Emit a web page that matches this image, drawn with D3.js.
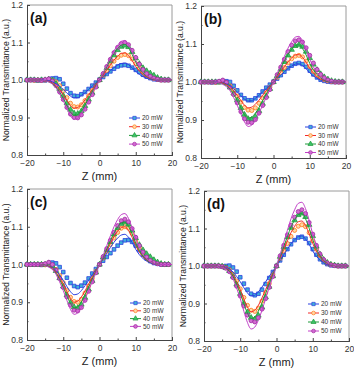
<!DOCTYPE html>
<html>
<head>
<meta charset="utf-8">
<script src="https://cdn.jsdelivr.net/npm/d3@7"></script>
<style>
  body { margin: 0; background: #fff; }
  svg { display: block; }
  text { font-family: "Liberation Sans", Arial, sans-serif; }
</style>
</head>
<body>
<svg width="354" height="372"></svg>
<script>
const powers = ["20 mW", "30 mW", "40 mW", "50 mW"];
const panelLabels = ["(a)", "(b)", "(c)", "(d)"];
const xTicks = [-20, -10, 0, 10, 20];
const xMinor = [-15, -5, 5, 15];
const yTicks = [0.8, 0.9, 1.0, 1.1, 1.2];
const yMinor = [0.85, 0.95, 1.05, 1.15];

// z positions (mm) of the measured points and of the fitted curves
const zPts = [-20,-19,-18,-17,-16,-15,-14,-13,-12,-11,-10,-9,-8,-7,-6,-5,-4,-3,-2,-1,0,1,2,3,4,5,6,7,8,9,10,11,12,13,14,15,16,17,18,19];
const zFit = [-20,-19,-18,-17,-16,-15,-14,-13,-12,-11,-10,-9,-8,-7,-6,-5,-4,-3,-2,-1,0,1,2,3,4,5,6,7,8,9,10,11,12,13,14,15,16,17,18,19,20];

// (a) measured
const ptsA20 = [1.000,1.000,1.000,0.999,1.000,0.999,1.001,1.004,1.005,1.002,0.990,0.977,0.965,0.958,0.957,0.962,0.968,0.976,0.985,0.993,1.001,1.008,1.016,1.023,1.030,1.036,1.039,1.040,1.038,1.033,1.027,1.021,1.014,1.009,1.005,1.002,1.001,1.000,1.000,1.000];
const ptsA30 = [1.000,1.000,0.999,1.000,0.999,1.000,1.001,1.000,0.995,0.985,0.970,0.953,0.938,0.929,0.928,0.934,0.945,0.958,0.972,0.986,1.000,1.012,1.025,1.038,1.050,1.060,1.066,1.068,1.065,1.056,1.044,1.032,1.022,1.014,1.008,1.004,1.002,1.000,1.000,1.000];
const ptsA40 = [1.000,1.000,1.000,0.999,1.000,1.000,1.002,0.999,0.990,0.976,0.958,0.938,0.921,0.911,0.910,0.917,0.931,0.948,0.966,0.983,1.000,1.015,1.032,1.050,1.066,1.080,1.089,1.092,1.088,1.075,1.058,1.043,1.032,1.024,1.018,1.012,1.006,1.002,1.000,1.000];
const ptsA50 = [1.000,1.000,1.000,1.000,0.999,1.001,1.003,0.997,0.985,0.968,0.948,0.927,0.909,0.900,0.899,0.907,0.922,0.941,0.961,0.981,1.000,1.017,1.036,1.055,1.073,1.087,1.097,1.100,1.094,1.079,1.060,1.042,1.028,1.017,1.010,1.005,1.002,1.000,1.000,1.000];
// (a) fitted
const fitA20 = [1,1,1,1,1,0.999,0.998,0.995,0.990,0.983,0.975,0.965,0.957,0.952,0.953,0.959,0.966,0.975,0.984,0.992,1,1.008,1.017,1.025,1.033,1.040,1.044,1.045,1.041,1.032,1.023,1.015,1.009,1.005,1.002,1.001,1,1,1,1,1];
const fitA30 = [1,1,1,1,0.999,0.998,0.996,0.992,0.985,0.974,0.961,0.946,0.932,0.925,0.927,0.935,0.947,0.961,0.974,0.987,1,1.013,1.027,1.040,1.053,1.063,1.071,1.072,1.065,1.052,1.036,1.024,1.014,1.008,1.004,1.002,1.001,1,1,1,1];
const fitA40 = [1,1,1,1,0.999,0.998,0.995,0.990,0.981,0.967,0.951,0.932,0.914,0.905,0.908,0.918,0.933,0.951,0.968,0.984,1,1.017,1.035,1.053,1.070,1.084,1.093,1.095,1.086,1.068,1.048,1.031,1.019,1.010,1.005,1.002,1.001,1,1,1,1];
const fitA50 = [1,1,1,1,0.999,0.998,0.995,0.989,0.979,0.963,0.945,0.924,0.905,0.895,0.898,0.910,0.926,0.945,0.964,0.982,1,1.019,1.039,1.059,1.078,1.092,1.103,1.105,1.094,1.076,1.052,1.035,1.021,1.012,1.006,1.003,1.001,1,1,1,1];

// (b) measured
const ptsB20 = [1.000,1.000,1.000,0.999,1.000,1.000,1.001,1.002,1.000,0.990,0.978,0.966,0.957,0.952,0.952,0.957,0.965,0.975,0.985,0.993,1.001,1.009,1.018,1.027,1.036,1.043,1.048,1.050,1.047,1.040,1.030,1.020,1.012,1.006,1.003,1.001,1.000,1.000,1.000,1.000];
const ptsB30 = [1.000,1.000,1.000,1.000,0.999,1.000,1.001,0.998,0.990,0.978,0.963,0.947,0.933,0.926,0.925,0.932,0.944,0.958,0.972,0.986,1.000,1.012,1.025,1.038,1.050,1.061,1.068,1.070,1.066,1.055,1.041,1.028,1.018,1.011,1.006,1.003,1.001,1.000,1.000,1.000];
const ptsB40 = [1.000,1.000,1.000,1.000,1.000,0.999,1.002,0.997,0.986,0.970,0.952,0.932,0.914,0.903,0.901,0.909,0.924,0.943,0.963,0.982,1.000,1.016,1.034,1.053,1.070,1.085,1.095,1.098,1.093,1.080,1.063,1.046,1.032,1.021,1.013,1.007,1.003,1.001,1.000,1.000];
const ptsB50 = [1.000,1.000,1.000,1.000,1.000,1.002,1.005,0.999,0.986,0.967,0.945,0.922,0.903,0.894,0.893,0.901,0.918,0.938,0.959,0.980,1.000,1.019,1.039,1.060,1.080,1.097,1.108,1.111,1.105,1.090,1.070,1.050,1.033,1.020,1.011,1.005,1.002,1.000,1.000,1.000];
// (b) fitted
const fitB20 = [1,1,1,1,1,0.999,0.998,0.995,0.990,0.982,0.974,0.964,0.955,0.950,0.951,0.957,0.965,0.974,0.983,0.991,1,1.009,1.018,1.027,1.036,1.042,1.047,1.048,1.043,1.035,1.024,1.016,1.010,1.005,1.003,1.001,1,1,1,1,1];
const fitB30 = [1,1,1,1,0.999,0.999,0.997,0.993,0.986,0.976,0.965,0.951,0.939,0.932,0.934,0.942,0.952,0.965,0.977,0.988,1,1.013,1.027,1.040,1.053,1.063,1.071,1.072,1.065,1.052,1.036,1.024,1.014,1.008,1.004,1.002,1.001,1,1,1,1];
const fitB40 = [1,1,1,1,0.999,0.998,0.995,0.990,0.981,0.967,0.951,0.932,0.914,0.905,0.908,0.918,0.933,0.951,0.968,0.984,1,1.018,1.036,1.055,1.073,1.086,1.096,1.098,1.088,1.071,1.049,1.032,1.020,1.011,1.005,1.002,1.001,1,1,1,1];
const fitB50 = [1,1,1,1,0.999,0.998,0.994,0.988,0.977,0.959,0.939,0.916,0.895,0.883,0.887,0.899,0.918,0.939,0.960,0.980,1,1.022,1.044,1.067,1.089,1.106,1.118,1.120,1.108,1.086,1.060,1.040,1.024,1.013,1.007,1.003,1.001,1,1,1,1];

// (c) measured
const ptsC20 = [1.000,1.000,1.000,1.000,0.999,1.000,1.002,1.005,1.003,0.993,0.980,0.965,0.951,0.943,0.940,0.944,0.952,0.963,0.976,0.988,1.000,1.010,1.020,1.030,1.040,1.050,1.058,1.064,1.065,1.060,1.050,1.038,1.026,1.016,1.009,1.004,1.002,1.000,1.000,1.000];
const ptsC30 = [1.000,1.000,1.000,1.000,1.000,0.999,1.001,0.997,0.987,0.971,0.952,0.931,0.913,0.902,0.900,0.908,0.924,0.943,0.963,0.982,1.000,1.017,1.035,1.053,1.070,1.085,1.096,1.100,1.096,1.082,1.062,1.044,1.030,1.019,1.011,1.006,1.003,1.001,1.000,1.000];
const ptsC40 = [1.000,1.000,1.000,1.000,1.000,1.000,1.003,0.996,0.983,0.964,0.942,0.919,0.899,0.887,0.885,0.894,0.912,0.934,0.957,0.979,1.000,1.019,1.039,1.060,1.080,1.097,1.108,1.112,1.106,1.090,1.070,1.052,1.038,1.028,1.020,1.012,1.006,1.002,1.000,1.000];
const ptsC50 = [1.000,1.000,1.000,1.000,1.000,1.002,1.006,1.000,0.985,0.963,0.939,0.914,0.892,0.879,0.877,0.886,0.905,0.929,0.954,0.978,1.000,1.021,1.042,1.064,1.085,1.103,1.116,1.120,1.113,1.095,1.072,1.050,1.033,1.020,1.011,1.005,1.002,1.000,1.000,1.000];
// (c) fitted
const fitC20 = [1,1,1,1,0.999,0.998,0.996,0.992,0.984,0.972,0.958,0.942,0.928,0.920,0.922,0.931,0.944,0.958,0.973,0.986,1,1.014,1.030,1.045,1.059,1.070,1.078,1.080,1.072,1.058,1.040,1.026,1.016,1.009,1.004,1.002,1.001,1,1,1,1];
const fitC30 = [1,1,1,1,0.999,0.998,0.995,0.990,0.980,0.965,0.948,0.928,0.910,0.900,0.903,0.914,0.930,0.948,0.966,0.983,1,1.018,1.037,1.056,1.074,1.088,1.098,1.100,1.090,1.072,1.050,1.033,1.020,1.011,1.006,1.003,1.001,1,1,1,1];
const fitC40 = [1,1,1,1,0.999,0.998,0.994,0.988,0.977,0.960,0.940,0.917,0.897,0.885,0.888,0.901,0.920,0.940,0.961,0.980,1,1.020,1.041,1.063,1.083,1.099,1.110,1.112,1.101,1.081,1.056,1.037,1.022,1.012,1.006,1.003,1.001,1,1,1,1];
const fitC50 = [1,1,1,1,0.999,0.997,0.993,0.987,0.974,0.954,0.931,0.905,0.881,0.868,0.872,0.886,0.908,0.931,0.955,0.978,1,1.024,1.050,1.076,1.100,1.119,1.132,1.135,1.122,1.097,1.068,1.045,1.027,1.015,1.007,1.003,1.001,1,1,1,1];

// (d) measured
const ptsD20 = [1.000,1.000,1.000,1.000,1.000,0.999,1.000,1.001,0.996,0.985,0.970,0.953,0.937,0.926,0.922,0.926,0.937,0.952,0.968,0.984,1.000,1.015,1.030,1.045,1.058,1.069,1.076,1.078,1.073,1.061,1.045,1.030,1.018,1.010,1.005,1.002,1.001,1.000,1.000,1.000];
const ptsD30 = [1.000,1.000,1.000,1.000,1.000,0.999,0.996,0.990,0.978,0.960,0.939,0.916,0.895,0.882,0.879,0.888,0.906,0.929,0.953,0.977,1.000,1.020,1.040,1.060,1.079,1.095,1.106,1.110,1.105,1.089,1.067,1.045,1.028,1.016,1.008,1.004,1.002,1.000,1.000,1.000];
const ptsD40 = [1.000,1.000,1.000,1.000,1.000,0.999,0.995,0.987,0.972,0.951,0.926,0.900,0.877,0.862,0.858,0.868,0.890,0.917,0.945,0.973,1.000,1.025,1.051,1.077,1.102,1.122,1.136,1.140,1.131,1.110,1.080,1.052,1.031,1.017,1.009,1.004,1.002,1.000,1.000,1.000];
const ptsD50 = [1.000,1.000,1.000,1.000,1.000,0.998,0.994,0.985,0.969,0.946,0.920,0.893,0.869,0.854,0.851,0.862,0.885,0.913,0.943,0.972,1.000,1.027,1.055,1.083,1.109,1.130,1.145,1.150,1.140,1.116,1.085,1.055,1.032,1.017,1.008,1.003,1.001,1.000,1.000,1.000];
// (d) fitted
const fitD20 = [1,1,1,1,0.999,0.998,0.996,0.992,0.984,0.972,0.958,0.942,0.928,0.920,0.922,0.931,0.944,0.958,0.973,0.986,1,1.014,1.030,1.045,1.059,1.070,1.078,1.080,1.072,1.058,1.040,1.026,1.016,1.009,1.004,1.002,1.001,1,1,1,1];
const fitD30 = [1,1,1,1,0.999,0.998,0.994,0.988,0.976,0.957,0.937,0.912,0.890,0.878,0.882,0.895,0.915,0.937,0.959,0.979,1,1.022,1.044,1.067,1.089,1.106,1.118,1.120,1.108,1.086,1.060,1.040,1.024,1.013,1.007,1.003,1.001,1,1,1,1];
const fitD40 = [1,1,1,1,0.999,0.997,0.993,0.986,0.972,0.951,0.927,0.899,0.874,0.860,0.864,0.880,0.902,0.927,0.952,0.976,1,1.025,1.052,1.078,1.104,1.123,1.137,1.140,1.126,1.101,1.070,1.046,1.028,1.015,1.008,1.004,1.001,1,1,1,1];
const fitD50 = [1,1,1,1,0.998,0.997,0.992,0.983,0.966,0.941,0.913,0.879,0.849,0.832,0.837,0.856,0.882,0.913,0.943,0.971,1,1.031,1.063,1.095,1.126,1.150,1.167,1.170,1.153,1.122,1.085,1.056,1.034,1.019,1.009,1.004,1.002,1,1,1,1];

const panelPts = [
  [ptsA20, ptsA30, ptsA40, ptsA50],
  [ptsB20, ptsB30, ptsB40, ptsB50],
  [ptsC20, ptsC30, ptsC40, ptsC50],
  [ptsD20, ptsD30, ptsD40, ptsD50]
];
const panelFits = [
  [fitA20, fitA30, fitA40, fitA50],
  [fitB20, fitB30, fitB40, fitB50],
  [fitC20, fitC30, fitC40, fitC50],
  [fitD20, fitD30, fitD40, fitD50]
];

// layout of each panel (pixels)
const layout = [
  { left: 27,  right: 172, top: 5,   bottom: 155, legX: 129, legY: 118, legDy: 8.7 },
  { left: 201, right: 346, top: 6,   bottom: 158, legX: 305, legY: 127, legDy: 8.5 },
  { left: 27,  right: 172, top: 189, bottom: 340, legX: 130, legY: 303, legDy: 7.8 },
  { left: 204, right: 349, top: 191, bottom: 341, legX: 308, legY: 304, legDy: 9 }
];

const lineColors = ["#2b3fe0", "#f22a2a", "#1f9a3a", "#c23fc8"];
const markFill = ["#3fb0d8", "#ffd7a8", "#3cc46a", "#d26ad2"];
const markStroke = ["#2b3fe0", "#ff7a18", "#1f9a3a", "#a02aa0"];
const markShape = [d3.symbolSquare, d3.symbolCircle, d3.symbolTriangle, d3.symbolCircle];
const markSize = [13, 13, 13, 13];

const svg = d3.select("svg");

layout.forEach((L, p) => {
  const x = d3.scaleLinear().domain([-20, 20]).range([L.left, L.right]);
  const y = d3.scaleLinear().domain([0.8, 1.2]).range([L.bottom, L.top]);
  const g = svg.append("g");

  // frame: top and right light
  g.append("line").attr("x1", L.left).attr("x2", L.right).attr("y1", L.top).attr("y2", L.top)
    .attr("stroke", "#9a9a9a").attr("stroke-width", 1);
  g.append("line").attr("x1", L.right).attr("x2", L.right).attr("y1", L.top).attr("y2", L.bottom)
    .attr("stroke", "#9a9a9a").attr("stroke-width", 1);

  // axes
  const xAxis = g.append("g").attr("transform", `translate(0,${L.bottom})`)
    .call(d3.axisBottom(x).tickValues(xTicks).tickSize(-3).tickPadding(5)
      .tickFormat(d => d3.format("d")(d)));
  g.append("g").attr("transform", `translate(0,${L.bottom})`)
    .call(d3.axisBottom(x).tickValues(xMinor).tickSize(-1.5).tickFormat(""));
  const yAxis = g.append("g").attr("transform", `translate(${L.left},0)`)
    .call(d3.axisLeft(y).tickValues(yTicks).tickSize(-3).tickPadding(4)
      .tickFormat(d3.format(".1f")));
  g.append("g").attr("transform", `translate(${L.left},0)`)
    .call(d3.axisLeft(y).tickValues(yMinor).tickSize(-1.5).tickFormat(""));

  g.selectAll(".domain").attr("stroke", "#444");
  g.selectAll(".tick line").attr("stroke", "#444");
  g.selectAll(".tick text").attr("font-size", 8.5).attr("fill", "#333")
    .attr("font-family", "'Liberation Sans', Arial, sans-serif");

  // axis titles
  g.append("text")
    .attr("x", (L.left + L.right) / 2)
    .attr("y", L.bottom + 25)
    .attr("text-anchor", "middle")
    .attr("font-size", 11)
    .attr("fill", "#222")
    .text("Z (mm)");

  g.append("text")
    .attr("transform", `translate(${L.left - 18},${(L.top + L.bottom) / 2}) rotate(-90)`)
    .attr("text-anchor", "middle")
    .attr("font-size", 8.6)
    .attr("fill", "#222")
    .text("Normalized Transmittance (a.u.)");

  g.append("text")
    .attr("x", L.left + 3)
    .attr("y", L.top + 18)
    .attr("font-size", 14)
    .attr("font-weight", "bold")
    .attr("fill", "#111")
    .text(panelLabels[p]);

  const plot = g.append("g");

  // measured points
  panelPts[p].forEach((vals, s) => {
    plot.append("g").selectAll("path")
      .data(vals.map((v, i) => [zPts[i], v]))
      .join("path")
      .attr("transform", d => `translate(${x(d[0])},${y(d[1])})`)
      .attr("d", d3.symbol().type(markShape[s]).size(markSize[s]))
      .attr("fill", markFill[s])
      .attr("stroke", markStroke[s])
      .attr("stroke-width", 0.8);
  });

  // fitted curves
  const line = d3.line().x(d => x(d[0])).y(d => y(d[1])).curve(d3.curveMonotoneX);
  panelFits[p].forEach((vals, s) => {
    plot.append("path")
      .datum(vals.map((v, i) => [zFit[i], v]))
      .attr("d", line)
      .attr("fill", "none")
      .attr("stroke", lineColors[s])
      .attr("stroke-width", 1);
  });

  // legend
  const leg = g.append("g");
  powers.forEach((name, s) => {
    const ly = L.legY + s * L.legDy;
    leg.append("line")
      .attr("x1", L.legX).attr("x2", L.legX + 11)
      .attr("y1", ly).attr("y2", ly)
      .attr("stroke", lineColors[s]).attr("stroke-width", 1);
    leg.append("path")
      .attr("transform", `translate(${L.legX + 5.5},${ly})`)
      .attr("d", d3.symbol().type(markShape[s]).size(11))
      .attr("fill", markFill[s])
      .attr("stroke", markStroke[s])
      .attr("stroke-width", 0.7);
    leg.append("text")
      .attr("x", L.legX + 13)
      .attr("y", ly + 2.3)
      .attr("font-size", 6.5)
      .attr("fill", "#333")
      .text(name);
  });
});
</script>
</body>
</html>
